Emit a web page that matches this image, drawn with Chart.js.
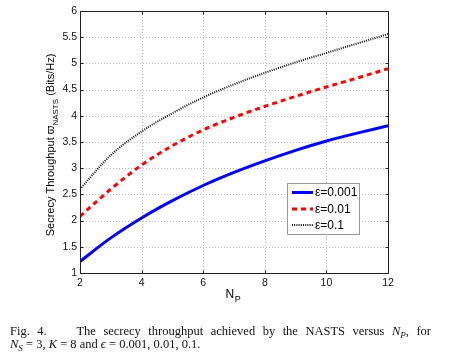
<!DOCTYPE html>
<html>
<head>
<meta charset="utf-8">
<script src="https://cdn.jsdelivr.net/npm/chart.js@4.4.0/dist/chart.umd.min.js"></script>
<style>
  html,body{margin:0;padding:0;background:#fff;}
  #wrap{position:relative;width:474px;height:357px;overflow:hidden;}
  canvas{position:absolute;left:0;top:0;}
  .cap{position:absolute;font-family:"Liberation Serif","Times New Roman",serif;font-size:12.5px;color:#111;white-space:nowrap;line-height:14px;}
  #l1{left:10px;top:324px;width:421px;text-align:justify;text-align-last:justify;white-space:normal;}
  #l2{left:10px;top:337px;}
  .sb{font-size:9px;position:relative;top:3px;font-style:italic;}
</style>
</head>
<body>
<div id="wrap">
<canvas id="c" width="474" height="357"></canvas>
<div class="cap" id="l1">Fig. 4. &nbsp;&nbsp; The secrecy throughput achieved by the NASTS versus <i>N</i><span class="sb">P</span>, for</div>
<div class="cap" id="l2"><i>N</i><span class="sb">S</span> = 3, <i>K</i> = 8 and <i>ϵ</i> = 0.001, 0.01, 0.1.</div>
</div>
<script>
const NP = [2, 3, 4, 5, 6, 7, 8, 9, 10, 11, 12];
const eps001 = [1.22, 1.67, 2.05, 2.38, 2.67, 2.92, 3.14, 3.34, 3.52, 3.67, 3.81];
const eps01  = [2.08, 2.60, 3.06, 3.43, 3.73, 3.97, 4.18, 4.37, 4.55, 4.72, 4.90];
const eps1   = [2.60, 3.25, 3.70, 4.05, 4.35, 4.60, 4.82, 5.02, 5.20, 5.38, 5.56];
const seriesLabels = ['ε=0.001', 'ε=0.01', 'ε=0.1'];
const xTicks = [2, 4, 6, 8, 10, 12];
const yTicks = [1, 1.5, 2, 2.5, 3, 3.5, 4, 4.5, 5, 5.5, 6];

const styles = [
  {color:'#0000ff', width:3, dash:[]},
  {color:'#ff0000', width:3, dash:[5,4]},
  {color:'#111111', width:2, dash:[1,1.2]}
];
const allSeries = [eps001, eps01, eps1];

const datasets = allSeries.map((s, i) => ({
  label: seriesLabels[i],
  data: NP.map((x, j) => ({x: x, y: s[j]})),
  borderColor: styles[i].color,
  borderWidth: styles[i].width,
  borderDash: styles[i].dash,
  pointRadius: 0,
  fill: false,
  tension: 0.4,
  cubicInterpolationMode: 'monotone'
}));

const frame = {
  id: 'frame',
  beforeDatasetsDraw(chart) {
    const {ctx, chartArea: a, scales: {x, y}} = chart;
    ctx.save();
    ctx.strokeStyle = '#b8b8b8';
    ctx.lineWidth = 1;
    ctx.setLineDash([1, 2]);
    xTicks.forEach(v => {
      const px = Math.round(x.getPixelForValue(v)) + 0.5;
      ctx.beginPath(); ctx.moveTo(px, a.top); ctx.lineTo(px, a.bottom); ctx.stroke();
    });
    yTicks.forEach(v => {
      const py = Math.round(y.getPixelForValue(v)) + 0.5;
      ctx.beginPath(); ctx.moveTo(a.left, py); ctx.lineTo(a.right, py); ctx.stroke();
    });
    ctx.restore();
  },
  afterDatasetsDraw(chart) {
    const {ctx, chartArea: a, scales: {x, y}} = chart;
    ctx.save();
    ctx.setLineDash([]);
    ctx.strokeStyle = '#222';
    ctx.lineWidth = 1;
    const L = Math.round(a.left) + 0.5, R = Math.round(a.right) + 0.5;
    const T = Math.round(a.top) + 0.5, B = Math.round(a.bottom) + 0.5;
    ctx.strokeRect(L, T, R - L, B - T);
    const tl = 3;
    xTicks.forEach(v => {
      const px = Math.round(x.getPixelForValue(v)) + 0.5;
      ctx.beginPath();
      ctx.moveTo(px, B); ctx.lineTo(px, B - tl);
      ctx.moveTo(px, T); ctx.lineTo(px, T + tl);
      ctx.stroke();
    });
    yTicks.forEach(v => {
      const py = Math.round(y.getPixelForValue(v)) + 0.5;
      ctx.beginPath();
      ctx.moveTo(L, py); ctx.lineTo(L + tl, py);
      ctx.moveTo(R, py); ctx.lineTo(R - tl, py);
      ctx.stroke();
    });
    // legend
    const bx = 287.5, by = 183.5, bw = 72, bh = 51;
    ctx.fillStyle = '#fff';
    ctx.fillRect(bx, by, bw, bh);
    ctx.strokeStyle = '#999';
    ctx.strokeRect(bx, by, bw, bh);
    const rows = [192.5, 209, 225];
    ctx.font = '12px "Liberation Sans", Arial, sans-serif';
    ctx.textBaseline = 'middle';
    ctx.textAlign = 'left';
    chart.data.datasets.forEach((d, i) => {
      ctx.save();
      ctx.strokeStyle = d.borderColor;
      ctx.lineWidth = d.borderWidth;
      ctx.setLineDash(d.borderDash);
      ctx.beginPath(); ctx.moveTo(292, rows[i]); ctx.lineTo(313, rows[i]); ctx.stroke();
      ctx.restore();
      ctx.fillStyle = '#000';
      ctx.fillText(d.label, 315, rows[i] + 0.5);
    });
    // y axis title
    ctx.save();
    ctx.translate(50, 145);
    ctx.rotate(-Math.PI / 2);
    const f1 = '11px "Liberation Sans", Arial, sans-serif';
    const f2 = '8px "Liberation Sans", Arial, sans-serif';
    const t1 = 'Secrecy Throughput ϖ', t2 = 'NASTS', t3 = ' (Bits/Hz)';
    ctx.font = f1; const w1 = ctx.measureText(t1).width, w3 = ctx.measureText(t3).width;
    ctx.font = f2; const w2 = ctx.measureText(t2).width;
    let sx = -(w1 + w2 + w3) / 2;
    ctx.fillStyle = '#000';
    ctx.textBaseline = 'alphabetic';
    ctx.font = f1; ctx.fillText(t1, sx, 4); sx += w1;
    ctx.font = f2; ctx.fillText(t2, sx, 8); sx += w2;
    ctx.font = f1; ctx.fillText(t3, sx, 4);
    ctx.restore();
    // x axis title
    ctx.fillStyle = '#000';
    ctx.textBaseline = 'alphabetic';
    ctx.font = '12px "Liberation Sans", Arial, sans-serif';
    ctx.fillText('N', 225.5, 298);
    const wn = ctx.measureText('N').width;
    ctx.font = '9px "Liberation Sans", Arial, sans-serif';
    ctx.fillText('P', 225.5 + wn + 0.5, 302);
    ctx.restore();
  }
};

const tickFont = {family: '"Liberation Sans", Arial, sans-serif', size: 10.5};

new Chart(document.getElementById('c'), {
  type: 'line',
  data: {datasets},
  options: {
    responsive: false,
    animation: false,
    layout: {padding: {left: 0, top: 11, right: 86, bottom: 64}},
    plugins: {legend: {display: false}, tooltip: {enabled: false}},
    scales: {
      x: {
        type: 'linear', min: 2, max: 12,
        afterBuildTicks: s => { s.ticks = xTicks.map(v => ({value: v})); },
        afterFit: s => { s.height = 20; },
        grid: {display: false, drawTicks: false, tickLength: 0},
        border: {display: false},
        ticks: {color: '#111', padding: 4, font: tickFont, maxRotation: 0, callback: v => String(v)}
      },
      y: {
        type: 'linear', min: 1, max: 6,
        afterBuildTicks: s => { s.ticks = yTicks.map(v => ({value: v})); },
        afterFit: s => { s.width = 80; },
        grid: {display: false, drawTicks: false, tickLength: 0},
        border: {display: false},
        ticks: {color: '#111', padding: 3, font: tickFont, callback: v => String(v)}
      }
    }
  },
  plugins: [frame]
});
</script>
</body>
</html>
